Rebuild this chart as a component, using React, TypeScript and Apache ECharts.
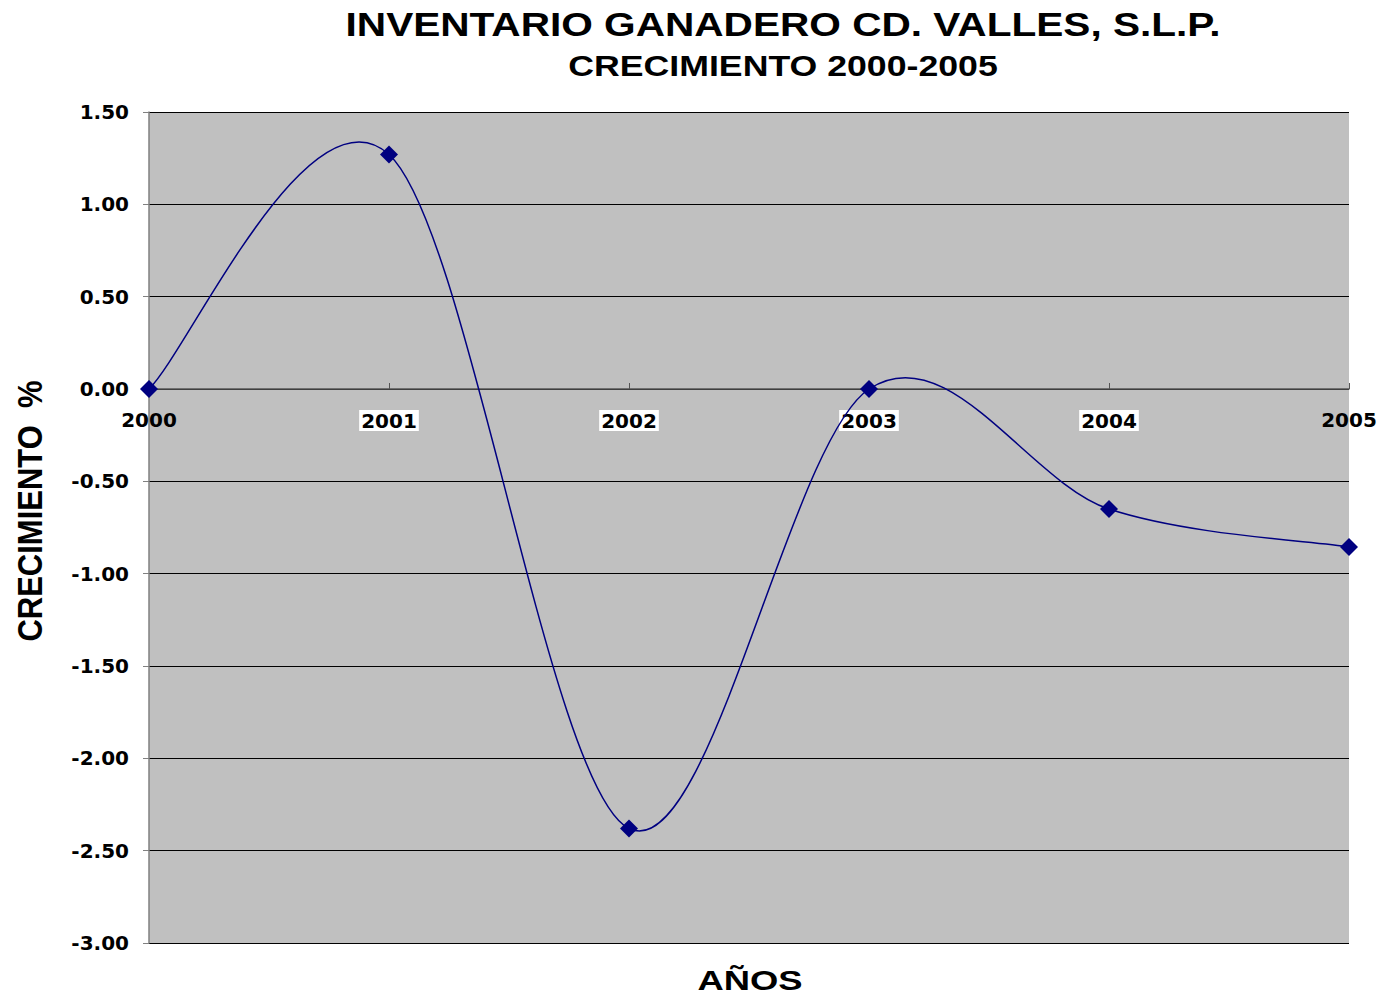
import React, { useEffect, useRef } from "react";
import * as echarts from "echarts";

const years = ["2000", "2001", "2002", "2003", "2004", "2005"];
const growth = [0.0, 1.27, -2.38, 0.0, -0.65, -0.855];
const yMin = -3.0;
const yMax = 1.5;
const yStep = 0.5;

const title = "INVENTARIO GANADERO CD. VALLES, S.L.P.";
const subtitle = "CRECIMIENTO 2000-2005";
const yName = "CRECIMIENTO  %";
const xName = "AÑOS";

const font = "DejaVu Sans, Verdana, sans-serif";
const arial = "Liberation Sans, Arial, sans-serif";

export default function App() {
  const ref = useRef<HTMLDivElement>(null);
  useEffect(() => {
    const chart = echarts.init(ref.current!, null, { renderer: "svg" });
    const gridTop = 112;
    const gridH = 831;
    const zeroOffset = -Math.round((gridH * (0 - yMin)) / (yMax - yMin));
    const txt = (text: string, x: number, y: number, size: number, sx: number, sy: number, rot = 0) => ({
      type: "text",
      x,
      y,
      scaleX: sx,
      scaleY: sy,
      rotation: rot,
      style: {
        text,
        fontFamily: arial,
        fontWeight: "bold",
        fontSize: size,
        fill: "#000",
        align: "center",
        verticalAlign: "middle",
      },
    });
    chart.setOption({
      animation: false,
      backgroundColor: "#ffffff",
      grid: { left: 149, top: gridTop, width: 1200, height: gridH, show: true, backgroundColor: "#c0c0c0", borderWidth: 0 },
      xAxis: {
        type: "category",
        boundaryGap: false,
        data: years,
        offset: zeroOffset,
        axisLine: { onZero: false, lineStyle: { color: "#555555", width: 1.5 } },
        axisTick: { show: true, inside: true, length: 6, lineStyle: { color: "#555555" } },
        axisLabel: {
          margin: 21,
          formatter: (v: string, i: number) => (i === 0 || i === years.length - 1 ? `{n|${v}}` : `{w|${v}}`),
          rich: {
            n: { fontFamily: font, fontWeight: "bold", fontSize: 20, color: "#000" },
            w: {
              fontFamily: font,
              fontWeight: "bold",
              fontSize: 20,
              color: "#000",
              backgroundColor: "#ffffff",
              padding: [1, 2, 0, 2],
            },
          },
        },
        splitLine: { show: false },
      },
      yAxis: {
        type: "value",
        min: yMin,
        max: yMax,
        interval: yStep,
        axisLine: { show: true, lineStyle: { color: "#808080", width: 1.5 } },
        axisTick: { show: true, length: 6, lineStyle: { color: "#808080" } },
        axisLabel: {
          fontFamily: font,
          fontWeight: "bold",
          fontSize: 20,
          color: "#000",
          margin: 20,
          formatter: (v: number) => v.toFixed(2),
        },
        splitLine: { show: true, lineStyle: { color: "#000000", width: 1 } },
      },
      graphic: [
        txt(title, 783, 25, 33, 1.23, 1),
        txt(subtitle, 783, 66, 29, 1.23, 1),
        txt(xName, 750, 981, 28, 1.3, 1),
        txt(yName, 30, 511, 31, 1, 1.15, Math.PI / 2),
      ],
      series: [
        {
          type: "custom",
          data: growth.map((v, i) => [i, v]),
          encode: { x: 0, y: 1 },
          z: 2,
          renderItem: (params: any, api: any) => {
            if (params.dataIndex !== 0) return null;
            const pts = growth.map((v, i) => api.coord([i, v]));
            const n = pts.length;
            let d = `M${pts[0][0]},${pts[0][1]}`;
            for (let i = 0; i < n - 1; i++) {
              const p0 = pts[Math.max(i - 1, 0)];
              const p1 = pts[i];
              const p2 = pts[i + 1];
              const p3 = pts[Math.min(i + 2, n - 1)];
              const c1x = p1[0] + (p2[0] - p0[0]) / 6;
              const c1y = p1[1] + (p2[1] - p0[1]) / 6;
              const c2x = p2[0] - (p3[0] - p1[0]) / 6;
              const c2y = p2[1] - (p3[1] - p1[1]) / 6;
              d += ` C${c1x},${c1y} ${c2x},${c2y} ${p2[0]},${p2[1]}`;
            }
            return {
              type: "path",
              shape: { pathData: d },
              style: { stroke: "#000080", lineWidth: 1.5, fill: "none" },
            };
          },
        },
        {
          type: "scatter",
          data: growth.map((v, i) => [i, v]),
          symbol: "diamond",
          symbolSize: 18,
          z: 3,
          itemStyle: { color: "#000080", opacity: 1 },
        },
      ],
    });
    return () => chart.dispose();
  }, []);
  return <div ref={ref} style={{ width: 1385, height: 1001, margin: -8 }} />;
}
